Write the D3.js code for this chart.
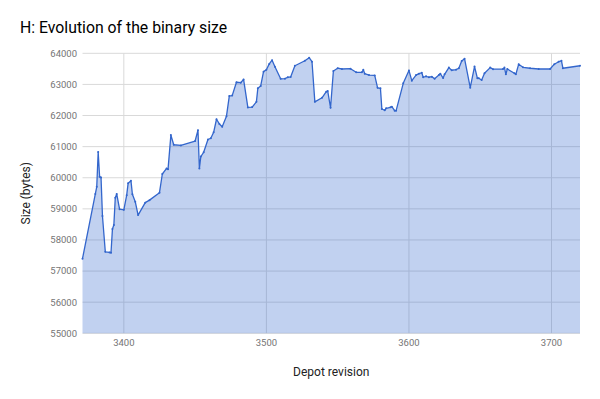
<!DOCTYPE html>
<html>
<head>
<meta charset="utf-8">
<script src="https://cdn.jsdelivr.net/npm/d3@7"></script>
<style>
  html, body { margin: 0; padding: 0; background: #fff; }
  svg { display: block; font-family: Roboto, "Noto Sans", Arial, sans-serif; }
</style>
</head>
<body>
<svg id="chart" width="600" height="399"></svg>
<script>
const revisions = [3371,3380,3381,3382,3383,3384,3385,3387,3390,3391,3392,3393,3394,3395,3397,3400,3402,3403,3405,3406,3408,3410,3415,3418,3425,3427,3430,3431,3433,3435,3440,3450,3452,3453,3454,3456,3459,3461,3463,3465,3467,3469,3472,3474,3476,3479,3482,3484,3487,3490,3493,3494,3496,3498,3500,3502,3504,3506,3510,3513,3515,3517,3520,3527,3530,3532,3534,3539,3542,3543,3545,3547,3550,3553,3559,3563,3567,3568,3569,3572,3576,3578,3580,3581,3583,3584,3587,3588,3590,3591,3596,3600,3602,3605,3607,3609,3610,3612,3614,3616,3618,3621,3622,3624,3625,3628,3630,3633,3635,3637,3639,3643,3646,3648,3649,3651,3653,3657,3659,3666,3667,3668,3669,3674,3675,3677,3680,3685,3691,3699,3702,3705,3707,3708,3720];
const sizes = [57400,59480,59710,60830,60030,60010,58770,57620,57600,57590,58350,58480,59360,59480,58990,58970,59440,59820,59900,59470,59230,58800,59200,59280,59520,60120,60300,60270,61370,61060,61040,61180,61530,60300,60680,60820,61230,61270,61460,61880,61730,61640,61980,62630,62640,63070,63055,63160,62260,62270,62440,62875,62950,63410,63470,63660,63780,63570,63180,63185,63230,63240,63600,63760,63860,63730,62440,62570,62765,62790,62250,63430,63520,63495,63505,63390,63390,63470,63345,63300,63290,62890,62875,62210,62170,62230,62265,62285,62155,62155,63035,63450,63120,63300,63345,63375,63230,63260,63230,63250,63185,63300,63345,63205,63325,63540,63455,63475,63520,63750,63825,62895,63575,63200,63200,63140,63360,63540,63490,63495,63540,63325,63495,63360,63325,63650,63550,63520,63495,63495,63650,63730,63760,63520,63600];
const xTicks = [3400, 3500, 3600, 3700];
const yTicks = [55000, 56000, 57000, 58000, 59000, 60000, 61000, 62000, 63000, 64000];
const title = "H: Evolution of the binary size";
const xTitle = "Depot revision";
const yTitle = "Size (bytes)";

const data = revisions.map((r, i) => ({ x: r, y: sizes[i] }));

const svg = d3.select("#chart");
const pLeft = 82.5, pRight = 580, pTop = 53.3, pBottom = 333.3;

const x = d3.scaleLinear().domain([3371, 3720]).range([pLeft, pRight]);
const y = d3.scaleLinear().domain([55000, 64000]).range([pBottom, pTop]);

// gridlines
const g = svg.append("g");
g.selectAll("line.h").data(yTicks).enter().append("line")
  .attr("x1", pLeft).attr("x2", pRight)
  .attr("y1", d => y(d)).attr("y2", d => y(d))
  .attr("stroke", "#d9d9d9").attr("stroke-width", 1);
g.selectAll("line.v").data(xTicks).enter().append("line")
  .attr("y1", pTop).attr("y2", pBottom)
  .attr("x1", d => x(d)).attr("x2", d => x(d))
  .attr("stroke", "#d9d9d9").attr("stroke-width", 1);

// area
const area = d3.area().x(d => x(d.x)).y0(y(55000)).y1(d => y(d.y));
svg.append("path").datum(data).attr("d", area)
  .attr("fill", "#3366cc").attr("fill-opacity", 0.3);

// line
const line = d3.line().x(d => x(d.x)).y(d => y(d.y));
svg.append("path").datum(data).attr("d", line)
  .attr("fill", "none").attr("stroke", "#3366cc").attr("stroke-width", 1.3)
  .attr("stroke-linejoin", "round");

svg.append("g").selectAll("circle").data(data).enter().append("circle")
  .attr("cx", d => x(d.x)).attr("cy", d => y(d.y)).attr("r", 1)
  .attr("fill", "#3366cc");

// y tick labels
svg.append("g").selectAll("text").data(yTicks).enter().append("text")
  .attr("x", 77).attr("y", d => y(d)).attr("dy", "0.35em")
  .attr("text-anchor", "end").attr("font-size", "9.5px").attr("fill", "#757575")
  .text(d => d);

// x tick labels
svg.append("g").selectAll("text").data(xTicks).enter().append("text")
  .attr("x", d => x(d)).attr("y", 345.5)
  .attr("text-anchor", "middle").attr("font-size", "9.5px").attr("fill", "#757575")
  .text(d => d);

// titles
svg.append("text").attr("x", 20).attr("y", 33).attr("font-size", "15.8px")
  .attr("fill", "#000").text(title);
svg.append("text").attr("x", (pLeft + pRight) / 2).attr("y", 376)
  .attr("text-anchor", "middle").attr("font-size", "12px").attr("fill", "#222")
  .text(xTitle);
svg.append("text").attr("transform", `translate(30,${(pTop + pBottom) / 2}) rotate(-90)`)
  .attr("text-anchor", "middle").attr("font-size", "12px").attr("fill", "#222")
  .text(yTitle);
</script>
</body>
</html>
